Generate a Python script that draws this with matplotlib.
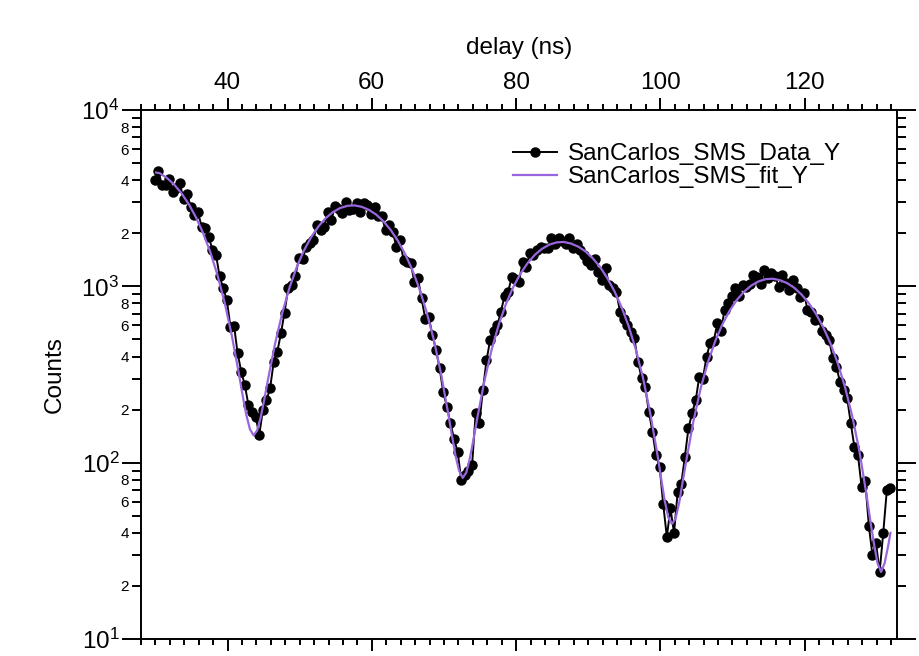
import matplotlib
matplotlib.use('Agg')
import matplotlib.pyplot as plt
import numpy as np
from matplotlib.ticker import LogLocator, FuncFormatter, MultipleLocator

plt.rcParams['font.family'] = ['Liberation Sans', 'DejaVu Sans']
plt.rcParams['mathtext.fontset'] = 'custom'
plt.rcParams['mathtext.rm'] = 'Liberation Sans'

# measured counts, one bin every 0.5 ns starting at 29.9 ns
delay_start = 29.9
delay_step = 0.5
counts = [
    4010, 4530, 3760, 3760, 4050, 3440, 3600, 3840, 3110, 3330,
    2830, 2540, 2650, 2180, 2130, 1910, 1610, 1510, 1140, 975,
    836, 590, 598, 417, 328, 275, 212, 195, 182, 144,
    199, 226, 264, 373, 426, 541, 708, 977, 1016, 1143,
    1442, 1420, 1680, 1750, 1833, 2230, 2100, 2180, 2650, 2380,
    2850, 2760, 2590, 3020, 2720, 2760, 2980, 2650, 2960, 2900,
    2570, 2800, 2490, 2490, 2080, 2230, 2040, 1680, 1830, 1410,
    1380, 1350, 1061, 1110, 855, 657, 670, 530, 435, 343,
    252, 208, 167, 137, 115, 80, 85, 90, 97, 191,
    167, 258, 380, 495, 560, 600, 720, 880, 931, 1133,
    1100, 1060, 1379, 1290, 1540, 1500, 1600, 1680, 1650, 1650,
    1870, 1740, 1870, 1800, 1740, 1870, 1650, 1740, 1600, 1510,
    1400, 1320, 1430, 1200, 1086, 1265, 1016, 980, 931, 718,
    657, 600, 553, 507, 373, 301, 270, 195, 150, 110,
    95, 58, 38, 55, 40, 68, 76, 108, 157, 191,
    226, 307, 300, 399, 475, 490, 617, 560, 735, 800,
    880, 975, 880, 1016, 995, 1030, 1159, 1133, 1030, 1236,
    1120, 1194, 1150, 995, 1159, 1050, 953, 1090, 980, 873,
    920, 735, 720, 644, 650, 560, 530, 495, 392, 350,
    288, 260, 232, 167, 123, 110, 73, 79, 44, 30,
    35, 24, 40, 70, 72,
]
delay = delay_start + delay_step * np.arange(len(counts))

# fit curve
fit_delay = [
    30.1, 30.6, 31.6, 32.6, 33.6, 34.6, 35.6, 36.6, 37.6, 38.6,
    39.6, 40.6, 41.6, 42.1, 42.6, 43.1, 43.6, 44.1, 44.6, 45.1,
    45.6, 46.6, 47.6, 48.6, 49.6, 50.6, 51.6, 52.6, 53.6, 54.6,
    55.6, 56.6, 57.6, 58.6, 59.6, 60.6, 61.6, 62.6, 63.6, 64.6,
    65.6, 66.6, 67.6, 68.6, 69.6, 70.6, 71.1, 71.6, 72.1, 72.6,
    73.1, 73.6, 74.1, 74.6, 75.6, 76.6, 77.6, 78.6, 79.6, 80.6,
    81.6, 82.6, 83.6, 84.6, 85.6, 86.6, 87.6, 88.6, 89.6, 90.6,
    91.6, 92.6, 93.6, 94.6, 95.6, 96.6, 97.6, 98.6, 99.6, 100.1,
    100.6, 101.1, 101.6, 102.1, 102.6, 103.1, 103.6, 104.6, 105.6, 106.6,
    107.6, 108.6, 109.6, 110.6, 111.6, 112.6, 113.6, 114.6, 115.6, 116.6,
    117.6, 118.6, 119.6, 120.6, 121.6, 122.6, 123.6, 124.6, 125.6, 126.6,
    127.6, 128.6, 129.1, 129.6, 130.1, 130.6, 131.1, 131.6, 131.9,
]
fit_counts = [
    4420, 4381, 4118, 3777, 3378, 2936, 2474, 2011, 1568, 1161,
    810, 524, 315, 240, 187, 155, 143, 152, 181, 229,
    295, 475, 710, 986, 1288, 1599, 1904, 2186, 2434, 2634,
    2780, 2861, 2879, 2825, 2716, 2554, 2341, 2093, 1819, 1531,
    1244, 968, 715, 497, 319, 189, 143, 110, 90, 82,
    88, 106, 136, 177, 289, 436, 607, 795, 989, 1179,
    1354, 1509, 1633, 1723, 1774, 1786, 1749, 1681, 1580, 1448,
    1294, 1123, 945, 766, 595, 438, 302, 191, 111, 82,
    61, 49, 45, 48, 59, 78, 103, 173, 265, 372,
    488, 609, 727, 837, 932, 1010, 1066, 1098, 1105, 1083,
    1042, 979, 896, 801, 695, 584, 473, 366, 268, 184,
    116, 65, 47, 35, 27, 24, 27, 34, 40,
]

fig = plt.figure(figsize=(9.19, 6.56), dpi=100)
ax = fig.add_axes([0.1534, 0.0259, 0.8226, 0.8064])

ax.plot(delay, counts, color='black', lw=1.4, marker='o', ms=6.5,
        label='SanCarlos_SMS_Data_Y', zorder=2)
ax.plot(fit_delay, fit_counts, color='#9966dd', lw=1.6,
        label='SanCarlos_SMS_fit_Y', zorder=3)

ax.set_yscale('log')
ax.set_ylim(10, 1e4)
ax.set_xlim(28, 132.8)

ax.xaxis.set_major_locator(MultipleLocator(20))
ax.xaxis.set_minor_locator(MultipleLocator(2))
ax.yaxis.set_major_locator(LogLocator(base=10, numticks=10))
ax.yaxis.set_minor_locator(LogLocator(base=10, subs=np.arange(2, 10), numticks=20))


def major_fmt(v, pos):
    return r'$\mathregular{10^{%d}}$' % round(np.log10(v))


def minor_fmt(v, pos):
    m = int(round(v / 10 ** np.floor(np.log10(v) + 1e-9)))
    return str(m) if m in (2, 4, 6, 8) else ''


ax.yaxis.set_major_formatter(FuncFormatter(major_fmt))
ax.yaxis.set_minor_formatter(FuncFormatter(minor_fmt))

for s in ax.spines.values():
    s.set_linewidth(1.4)

ax.tick_params(axis='x', which='both', direction='out', top=True, bottom=True,
               labeltop=True, labelbottom=False, width=1.4)
ax.tick_params(axis='x', which='major', length=8.5, labelsize=17.5, pad=3)
ax.tick_params(axis='x', which='minor', length=4)
ax.tick_params(axis='y', which='both', direction='out', left=True, right=True,
               labelleft=True, labelright=False, width=1.4)
ax.tick_params(axis='y', which='major', length=13.5, labelsize=17.5, pad=2)
ax.tick_params(axis='y', which='minor', length=6.5, labelsize=11, pad=2)

ax.xaxis.set_label_position('top')
ax.set_xlabel('delay (ns)', fontsize=17.5, labelpad=13)
ax.set_ylabel('Counts', fontsize=17.5)
ax.yaxis.set_label_coords(-0.1, 0.5)

ax.legend(loc='upper left', bbox_to_anchor=(513 / 919, 1 - 143 / 656),
          bbox_transform=fig.transFigure, frameon=False, fontsize=17.5,
          handlelength=1.8, handletextpad=0.45, labelspacing=0.05,
          borderpad=0, borderaxespad=0, numpoints=1)

fig.savefig('out.png', dpi=100)
